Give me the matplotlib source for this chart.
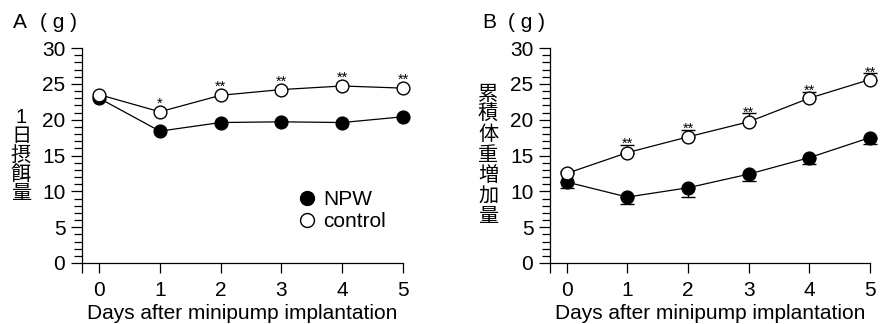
import matplotlib
matplotlib.use("Agg")
import matplotlib.pyplot as plt
from matplotlib.lines import Line2D
from matplotlib.ticker import MultipleLocator

plt.rcParams['font.family'] = ['Liberation Sans', 'Noto Sans CJK JP']

days = [0, 1, 2, 3, 4, 5]

# Panel A: daily food intake (g)
a_npw = [23.0, 18.4, 19.6, 19.7, 19.6, 20.4]
a_ctrl = [23.5, 21.1, 23.4, 24.2, 24.7, 24.4]
a_stars = ['', '*', '**', '**', '**', '**']

# Panel B: cumulative body weight gain (g)
b_npw = [11.3, 9.2, 10.5, 12.4, 14.7, 17.5]
b_npw_err = [0.9, 1.0, 1.3, 1.0, 0.9, 0.9]
b_ctrl = [12.5, 15.4, 17.6, 19.7, 23.0, 25.6]
b_ctrl_err = [0.3, 1.1, 1.0, 1.2, 0.9, 0.9]
b_stars = ['', '**', '**', '**', '**', '**']

xlabel = 'Days after minipump implantation'
ylabel_a = '1日摂餌量'
ylabel_b = '累積体重増加量'

FS = 15
W, H = 888, 324
fig = plt.figure(figsize=(W / 100, H / 100), dpi=100)

axA = fig.add_axes([82 / W, 61 / H, 321 / W, 215 / H])
axB = fig.add_axes([550 / W, 61 / H, 320 / W, 215 / H])


def style(ax, xl):
    ax.set_xlim(xl, 5)
    ax.set_ylim(0, 30)
    for s in ['top', 'right']:
        ax.spines[s].set_visible(False)
    for s in ['left', 'bottom']:
        ax.spines[s].set_linewidth(0.9)
    ax.set_xticks([xl] + days)
    ax.set_xticklabels([''] + [str(d) for d in days])
    ax.set_yticks([0, 5, 10, 15, 20, 25, 30])
    ax.yaxis.set_minor_locator(MultipleLocator(1))
    ax.tick_params(axis='y', which='major', length=8, width=0.9, pad=4, labelsize=FS)
    ax.tick_params(axis='y', which='minor', length=5.5, width=0.9)
    ax.tick_params(axis='x', which='major', length=7, width=0.9, pad=6, labelsize=FS)
    ax.set_xlabel(xlabel, fontsize=FS, labelpad=3)


style(axA, -0.28)
style(axB, -0.275)

mk = dict(marker='o', markersize=9.2, markeredgewidth=1.0, color='black', lw=0.9, clip_on=False)

# Panel A
axA.plot(days, a_npw, markerfacecolor='black', zorder=3, **mk)
axA.plot(days, a_ctrl, markerfacecolor='white', zorder=4, **mk)
for d, v, s in zip(days, a_ctrl, a_stars):
    if s:
        axA.annotate(s, (d, v), xytext=(0, 3), textcoords='offset points',
                     ha='center', va='baseline', fontsize=10.5)

# Panel B
axB.errorbar(days, b_npw, yerr=[b_npw_err, [0] * 6], fmt='none', ecolor='black',
             elinewidth=0.9, capsize=5, capthick=1.0, zorder=2, clip_on=False)
axB.errorbar(days, b_ctrl, yerr=[[0] * 6, b_ctrl_err], fmt='none', ecolor='black',
             elinewidth=0.9, capsize=5, capthick=1.0, zorder=2, clip_on=False)
axB.plot(days, b_npw, markerfacecolor='black', zorder=3, **mk)
axB.plot(days, b_ctrl, markerfacecolor='white', zorder=4, **mk)
for d, v, e, s in zip(days, b_ctrl, b_ctrl_err, b_stars):
    if s:
        axB.annotate(s, (d, v + e), xytext=(0, -2.5), textcoords='offset points',
                     ha='center', va='baseline', fontsize=10.5)

# Legend
handles = [Line2D([], [], ls='none', marker='o', markersize=10, markerfacecolor='black',
                  markeredgecolor='black'),
           Line2D([], [], ls='none', marker='o', markersize=10, markerfacecolor='white',
                  markeredgecolor='black')]
axA.legend(handles, ['NPW', 'control'], loc='upper left', bbox_to_anchor=(0.674, 0.34),
           frameon=False, fontsize=FS, handlelength=0.8, handletextpad=0.4,
           labelspacing=0.15, borderpad=0, borderaxespad=0)

# Panel letters and units
fig.text(13 / W, 1 - 22 / H, 'A', fontsize=FS, va='center', ha='left')
fig.text(40 / W, 1 - 22 / H, '( g )', fontsize=FS, va='center', ha='left')
fig.text(482 / W, 1 - 22 / H, 'B', fontsize=FS, va='center', ha='left')
fig.text(508 / W, 1 - 22 / H, '( g )', fontsize=FS, va='center', ha='left')

# Vertical stacked y labels
for i, ch in enumerate(ylabel_a):
    fig.text(21 / W, 1 - (117 + i * 19.2) / H, ch, fontsize=14.5, ha='center', va='center',
             family=['Liberation Sans', 'Noto Sans CJK JP'] if ch.isdigit() else ['Noto Sans CJK JP'])
for i, ch in enumerate(ylabel_b):
    fig.text(488 / W, 1 - (94 + i * 20.4) / H, ch, fontsize=14.5, ha='center', va='center',
             family=['Noto Sans CJK JP'])

fig.savefig('out.png', dpi=100)
